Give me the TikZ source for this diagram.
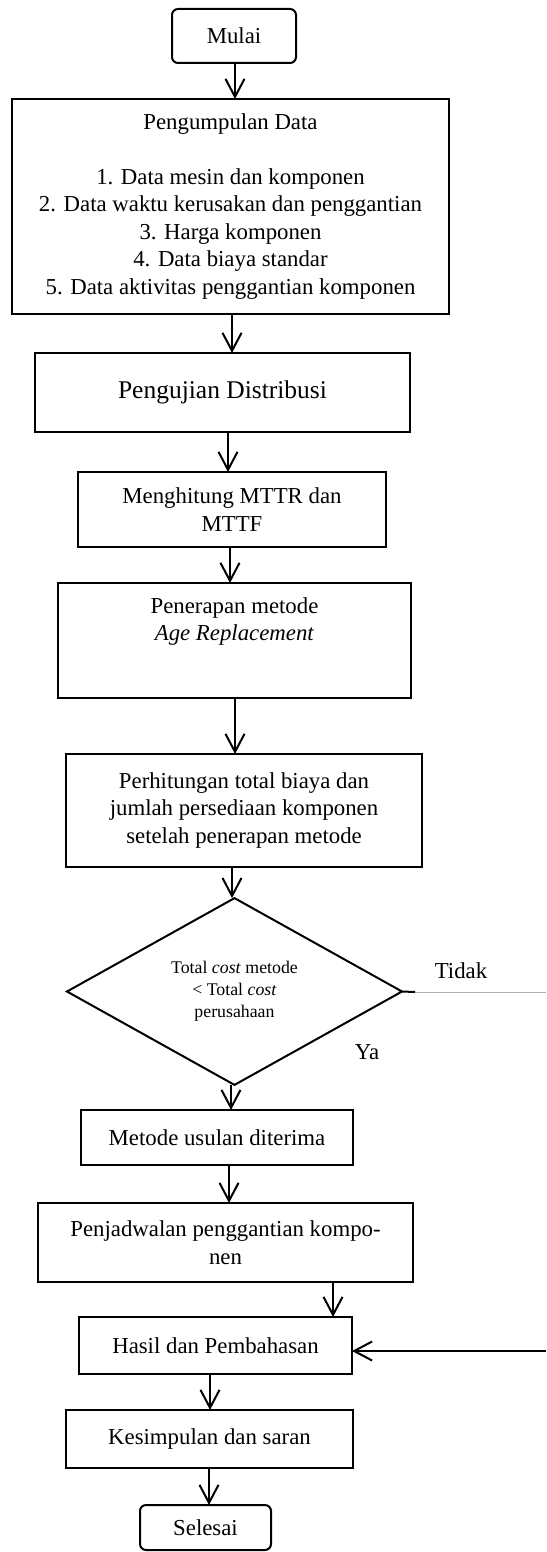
\documentclass[tikz,border=0pt]{standalone}
\usepackage{fontspec}
\setmainfont{Liberation Serif}
\usetikzlibrary{arrows.meta,shapes.geometric}
\begin{document}
\begin{tikzpicture}[x=0.5pt,y=-0.5pt,
  box/.style={draw,line width=1pt,rectangle,inner sep=0pt,outer sep=0pt,align=center,font=\fontsize{11.4}{13.75}\selectfont},
  term/.style={box,rounded corners=3pt},
  arr/.style={line width=1pt,-{Straight Barb[length=9pt,width=9.5pt]}},
  lbl/.style={inner sep=0pt,outer sep=0pt,align=center,font=\fontsize{11.4}{13.75}\selectfont}]
\useasboundingbox (0,0) rectangle (546,1552);
% nodes
\node[term,minimum width=62pt,minimum height=27pt] (mulai) at (234,36) {Mulai};
\node[box,minimum width=218.5pt,minimum height=107.5pt] (data) at (230.5,206.5)
  {Pengumpulan Data\\[13.75pt]
   1. Data mesin dan komponen\\
   2. Data waktu kerusakan dan penggantian\\
   3. Harga komponen\\
   4. Data biaya standar\\
   5. Data aktivitas penggantian komponen};
\node[box,minimum width=187.5pt,minimum height=39.5pt,font=\fontsize{12.75}{15}\selectfont] (uji) at (222.5,392.5) {Pengujian Distribusi};
\node[box,minimum width=154pt,minimum height=37.5pt] (mttr) at (232,509.5) {Menghitung MTTR dan\\ MTTF};
\node[box,minimum width=176.5pt,minimum height=57.5pt] (terap) at (234.5,640.5) {};
\node[lbl] (terapT) at (234.5,621.5) {Penerapan metode\\ \textit{Age Replacement}};
\node[box,minimum width=178pt,minimum height=56.5pt] (hitung) at (244,810.5)
  {Perhitungan total biaya dan\\ jumlah persediaan komponen\\ setelah penerapan metode};
\node[draw,line width=1pt,shape=diamond,minimum width=167.5pt,minimum height=86.5pt,inner sep=0pt,outer sep=0pt,align=center,font=\fontsize{8.9}{11}\selectfont] (dec) at (234.5,991.5)
  {Total \textit{cost} metode\\ < Total \textit{cost}\\ perusahaan};
\node[lbl] (tidak) at (461,971) {Tidak};
\node[lbl] (ya) at (367,1052) {Ya};
\node[box,minimum width=136pt,minimum height=27.5pt] (metode) at (217,1137.5) {Metode usulan diterima};
\node[box,minimum width=187.5pt,minimum height=39.5pt] (jadwal) at (225.5,1242.5) {Penjadwalan penggantian kompo-\\nen};
\node[box,minimum width=136.5pt,minimum height=28.5pt] (hasil) at (215.5,1345.5) {Hasil dan Pembahasan};
\node[box,minimum width=143.5pt,minimum height=29pt] (kesim) at (209.5,1439) {Kesimpulan dan saran};
\node[term,minimum width=65.5pt,minimum height=22.5pt] (selesai) at (205.5,1527.5) {Selesai};
% x positions of the arrows
\coordinate (v1) at (235,0);
\coordinate (v2) at (232,0);
\coordinate (v3) at (228,0);
\coordinate (v4) at (230,0);
\coordinate (v5) at (235,0);
\coordinate (v6) at (232,0);
\coordinate (v7) at (231,0);
\coordinate (v8) at (229,0);
\coordinate (v9) at (333,0);
\coordinate (v10) at (210,0);
\coordinate (v11) at (209,0);
\coordinate (tk) at (415,992);
\coordinate (tg) at (546,992);
\coordinate (hin) at (546,1351);
% connectors
\draw[arr] (mulai.south -| v1) -- (data.north -| v1);
\draw[arr] (data.south -| v2) -- (uji.north -| v2);
\draw[arr] (uji.south -| v3) -- (mttr.north -| v3);
\draw[arr] (mttr.south -| v4) -- (terap.north -| v4);
\draw[arr] (terap.south -| v5) -- (hitung.north -| v5);
\draw[arr] (hitung.south -| v6) -- (dec.north -| v6);
\draw[arr] (dec.south -| v7) -- (metode.north -| v7);
\draw[arr] (metode.south -| v8) -- (jadwal.north -| v8);
\draw[arr] (jadwal.south -| v9) -- (hasil.north -| v9);
\draw[arr] (hasil.south -| v10) -- (kesim.north -| v10);
\draw[arr] (kesim.south -| v11) -- (selesai.north -| v11);
\draw[line width=1pt] (dec.east) -- (tk);
\draw[line width=0.5pt,gray!60] (tk) -- (tg);
\draw[arr] (hin) -- (hin -| hasil.east);
\end{tikzpicture}
\end{document}
